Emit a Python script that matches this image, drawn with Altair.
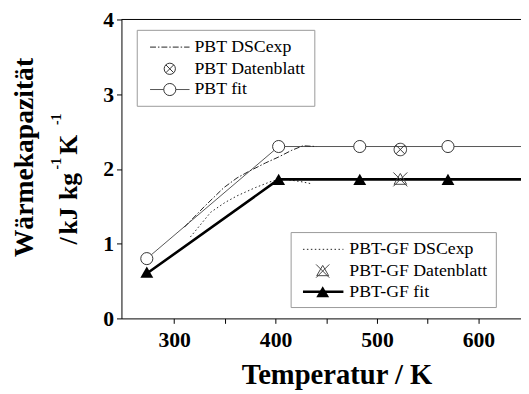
import altair as alt
import pandas as pd

# ---------------- data ----------------
T_pbt_fit = [273, 403, 483, 570, 650]
cp_pbt_fit = [0.80, 2.30, 2.30, 2.30, 2.30]
T_pbt_fit_marker = [273, 403, 483, 570]
cp_pbt_fit_marker = [0.80, 2.30, 2.30, 2.30]

T_gf_fit = [273, 403, 483, 570, 650]
cp_gf_fit = [0.60, 1.86, 1.86, 1.86, 1.86]
T_gf_fit_marker = [273, 403, 483, 570]
cp_gf_fit_marker = [0.62, 1.86, 1.86, 1.86]

T_pbt_dsc = [310, 330, 349, 362, 374, 390, 403, 416, 427, 440]
cp_pbt_dsc = [1.22, 1.50, 1.75, 1.88, 1.97, 2.08, 2.16, 2.25, 2.31, 2.30]

T_gf_dsc = [316, 336, 350, 362, 380, 397, 410, 425, 436]
cp_gf_dsc = [1.09, 1.42, 1.55, 1.64, 1.75, 1.84, 1.86, 1.83, 1.80]

T_pbt_db = [523]
cp_pbt_db = [2.26]
T_gf_db = [523]
cp_gf_db = [1.86]

legend1_labels = ["PBT DSCexp", "PBT Datenblatt", "PBT fit"]
legend2_labels = ["PBT-GF DSCexp", "PBT-GF Datenblatt", "PBT-GF fit"]

x_ticks = [300, 350, 400, 450, 500, 550, 600]
y_ticks = [0, 0.5, 1, 1.5, 2, 2.5, 3, 3.5, 4]
x_title = "Temperatur / K"
y_title_1 = "Wärmekapazität"
y_title_2_parts = ["/", "kJ", "kg", "-1", "K", "-1"]

# ---------------- layout ----------------
W, H = 405, 303
FONT = "'Liberation Serif', 'Times New Roman', Times, serif"
CIRCLE_X = "M-1,0A1,1,0,1,1,1,0A1,1,0,1,1,-1,0ZM-0.7,-0.7L0.7,0.7M-0.7,0.7L0.7,-0.7"
TRI_X = "M0,-0.85L0.9,0.7L-0.9,0.7ZM-1,-1L1,1M1,-1L-1,1"


def df(xs, ys):
    return pd.DataFrame({"T": xs, "cp": ys})


xscale = alt.Scale(domain=[248, 642], nice=False, zero=False)
yscale = alt.Scale(domain=[0, 4], nice=False)

xaxis = alt.Axis(
    values=x_ticks,
    labelExpr="datum.value % 100 == 0 ? datum.label : ''",
    title=x_title,
    titleFontSize=29,
    titleFont=FONT,
    titleFontWeight="bold",
    titleX=218,
    titleY=66,
    titleBaseline="alphabetic",
    labelFontSize=22,
    labelPadding=6,
    grid=False,
)
yaxis = alt.Axis(
    values=y_ticks,
    labelExpr="datum.value % 1 == 0 ? format(datum.value, 'd') : ''",
    title=None,
    labelFontSize=22,
    labelPadding=3,
    grid=False,
)

X = alt.X("T:Q", scale=xscale, axis=xaxis)
Y = alt.Y("cp:Q", scale=yscale, axis=yaxis)
Xn = alt.X("T:Q", scale=xscale)
Yn = alt.Y("cp:Q", scale=yscale)

base = alt.Chart(df(T_pbt_fit, cp_pbt_fit)).mark_line(
    color="#555555", strokeWidth=1, clip=True
).encode(x=X, y=Y)

gf_fit_line = alt.Chart(df(T_gf_fit, cp_gf_fit)).mark_line(
    color="black", strokeWidth=2.6, clip=True
).encode(x=Xn, y=Yn)

pbt_dsc = alt.Chart(df(T_pbt_dsc, cp_pbt_dsc)).mark_line(
    color="#222222", strokeWidth=1, strokeDash=[6, 2, 1.5, 2]
).encode(x=Xn, y=Yn)

gf_dsc = alt.Chart(df(T_gf_dsc, cp_gf_dsc)).mark_line(
    color="#222222", strokeWidth=1, strokeDash=[1.5, 2.5]
).encode(x=Xn, y=Yn)

pbt_fit_pts = alt.Chart(df(T_pbt_fit_marker, cp_pbt_fit_marker)).mark_point(
    shape="circle", filled=True, fill="white", stroke="#333333", strokeWidth=1, size=150, opacity=1
).encode(x=Xn, y=Yn)

gf_fit_pts = alt.Chart(df(T_gf_fit_marker, cp_gf_fit_marker)).mark_point(
    shape="triangle-up", filled=True, color="black", size=170, opacity=1
).encode(x=Xn, y=Yn)

pbt_db = alt.Chart(df(T_pbt_db, cp_pbt_db)).mark_point(
    shape=CIRCLE_X, filled=False, color="#333333", strokeWidth=1, size=160, opacity=1
).encode(x=Xn, y=Yn)

gf_db = alt.Chart(df(T_gf_db, cp_gf_db)).mark_point(
    shape=TRI_X, filled=False, color="#444444", strokeWidth=1, size=200, opacity=1
).encode(x=Xn, y=Yn)

one = pd.DataFrame({"k": [0]})

top_border = alt.Chart(one).mark_rule(color="black", strokeWidth=1).encode(
    x=alt.value(0), x2=alt.value(W), y=alt.value(0)
)


def legend(labels, box, rows, line_x, sym_x, text_x, styles):
    layers = [
        alt.Chart(one).mark_rect(fill="white", stroke="#999999", strokeWidth=1).encode(
            x=alt.value(box[0]), x2=alt.value(box[2]), y=alt.value(box[1]), y2=alt.value(box[3])
        )
    ]
    for lab, ry, st in zip(labels, rows, styles):
        if st.get("line"):
            layers.append(
                alt.Chart(one).mark_rule(**st["line"]).encode(
                    x=alt.value(line_x[0]), x2=alt.value(line_x[1]), y=alt.value(ry)
                )
            )
        if st.get("sym"):
            layers.append(
                alt.Chart(one).mark_point(**st["sym"]).encode(x=alt.value(sym_x), y=alt.value(ry))
            )
        layers.append(
            alt.Chart(pd.DataFrame({"t": [lab]})).mark_text(
                align="left", baseline="middle", font=FONT, fontSize=18, color="black"
            ).encode(x=alt.value(text_x), y=alt.value(ry), text="t:N")
        )
    return layers


leg1 = legend(
    legend1_labels,
    (16, 11, 196, 88),
    (28, 50, 71),
    (29, 69),
    49,
    74,
    [
        {"line": dict(color="#222222", strokeWidth=1, strokeDash=[6, 2, 1.5, 2])},
        {"sym": dict(shape=CIRCLE_X, filled=False, color="#333333", strokeWidth=1, size=130, opacity=1)},
        {
            "line": dict(color="#555555", strokeWidth=1),
            "sym": dict(shape="circle", filled=True, fill="white", stroke="#333333", strokeWidth=1, size=150, opacity=1),
        },
    ],
)

leg2 = legend(
    legend2_labels,
    (172, 216, 380, 292),
    (233, 255, 276),
    (184, 225),
    204,
    231,
    [
        {"line": dict(color="#222222", strokeWidth=1, strokeDash=[1.5, 2.5])},
        {"sym": dict(shape=TRI_X, filled=False, color="#444444", strokeWidth=1, size=180, opacity=1)},
        {
            "line": dict(color="black", strokeWidth=2.6),
            "sym": dict(shape="triangle-up", filled=True, color="black", size=170, opacity=1),
        },
    ],
)


def vtext(txt, x, y, size, align="center"):
    return alt.Chart(pd.DataFrame({"t": [txt]})).mark_text(
        angle=270, align=align, baseline="alphabetic", font=FONT, fontSize=size,
        fontWeight="bold", color="black"
    ).encode(x=alt.value(x), y=alt.value(y), text="t:N")


ytitle = [
    vtext(y_title_1, -90, 140, 28),
    vtext(y_title_2_parts[0], -45, 228, 26, "left"),
    vtext(y_title_2_parts[1], -45, 218, 26, "left"),
    vtext(y_title_2_parts[2], -45, 183, 26, "left"),
    vtext(y_title_2_parts[3], -61, 152, 14, "left"),
    vtext(y_title_2_parts[4], -45, 137, 26, "left"),
    vtext(y_title_2_parts[5], -61, 107, 14, "left"),
]

chart = alt.layer(
    base, pbt_dsc, gf_dsc, gf_fit_line, top_border,
    pbt_fit_pts, gf_fit_pts, pbt_db, gf_db,
    *leg1, *leg2, *ytitle,
).properties(
    width=W,
    height=H,
    autosize=alt.AutoSizeParams(type="none"),
    padding={"left": 115, "top": 9, "right": 0, "bottom": 74},
).configure_view(stroke=None).configure_axis(
    domainColor="black",
    tickColor="black",
    tickSize=5,
    labelFont=FONT,
    labelFontWeight="bold",
    labelColor="black",
    titleColor="black",
)

chart.save("out.html", embed_options={"renderer": "svg", "actions": False})
